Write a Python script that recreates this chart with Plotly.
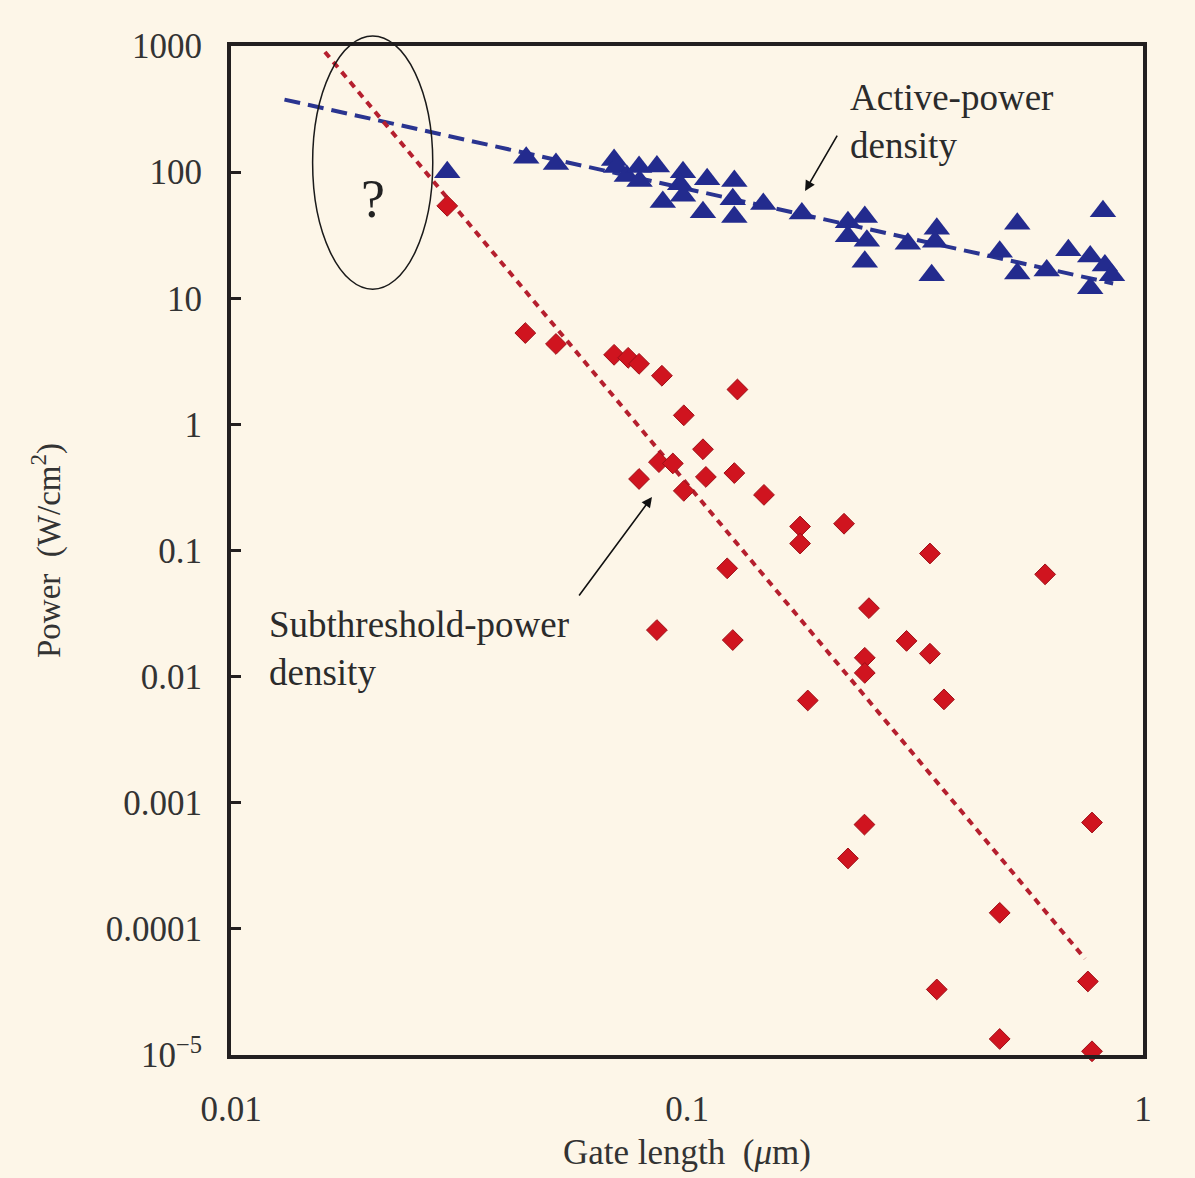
import math
import plotly.graph_objects as go

# ---------------- data ----------------
active_x = [0.0298, 0.0444, 0.0516, 0.0692, 0.0700, 0.0738, 0.0785, 0.0787, 0.0859, 0.0885,
            0.0980, 0.0980, 0.0966, 0.1084, 0.1107, 0.1270, 0.1260, 0.1270, 0.1470, 0.1786,
            0.2254, 0.2454, 0.2254, 0.2480, 0.2454, 0.3050, 0.3530, 0.3500, 0.3440, 0.5300,
            0.4850, 0.5300, 0.6150, 0.8170, 0.6860, 0.7660, 0.8250, 0.7660, 0.8550]
active_y = [100, 130, 116, 125, 110, 93, 110, 85, 111, 58,
            100, 65, 80, 48, 88, 85, 61, 44, 56, 47,
            40, 44, 31, 28.6, 19.5, 27, 35.6, 28, 15.2, 39,
            23.4, 15.7, 16.6, 49, 24, 21.4, 18.2, 12, 15.2]

sub_x = [0.0298, 0.0442, 0.0516, 0.0692, 0.0743, 0.0785, 0.0881, 0.129, 0.0984, 0.0785,
         0.0868, 0.0931, 0.1084, 0.110, 0.127, 0.0984, 0.1475, 0.177, 0.177, 0.221,
         0.341, 0.610, 0.1225, 0.2506, 0.0859, 0.126, 0.303, 0.341, 0.2454, 0.2454,
         0.366, 0.184, 0.245, 0.2254, 0.773, 0.485, 0.353, 0.757, 0.485, 0.773]
sub_y = [54, 5.3, 4.34, 3.56, 3.37, 3.02, 2.43, 1.89, 1.18, 0.369,
         0.502, 0.49, 0.635, 0.383, 0.411, 0.297, 0.276, 0.155, 0.1135, 0.163,
         0.0947, 0.0647, 0.0722, 0.0349, 0.0234, 0.0195, 0.0192, 0.0152, 0.0141, 0.0107,
         0.0066, 0.00647, 0.000671, 0.000362, 0.000697, 0.000134, 3.31e-5, 3.83e-5, 1.34e-5, 1.07e-5]

active_fit_x = [0.0131, 0.86]
active_fit_y = [376, 13.1]
sub_fit_x = [0.01607, 0.746]
sub_fit_y = [897, 5.8e-5]

x_ticks = [0.01, 0.1, 1]
x_ticktext = ["0.01", "0.1", "1"]
y_ticks = [1e-5, 1e-4, 1e-3, 1e-2, 1e-1, 1, 10, 100, 1000]
y_ticktext = ["10<sup>\u22125</sup>", "0.0001", "0.001", "0.01", "0.1", "1", "10", "100", "1000"]

# axis ranges (log10)
X_RANGE = [-2, 0]
Y_RANGE = [-5, 3]

# ellipse around the "?" region, in data units (gate length, power)
ell_x = [0.0151, 0.0277]
ell_y = [11.8, 1200]

BG = "#FDF6E8"
SERIF = "Liberation Serif, Times New Roman, serif"
NAVY = "#232B8E"
RED = "#D0141F"

fig = go.Figure()

fig.add_trace(go.Scatter(x=active_fit_x, y=active_fit_y, mode="lines",
                         line=dict(color="#2A3490", width=4, dash="16px,8px"),
                         showlegend=False, hoverinfo="skip"))
fig.add_trace(go.Scatter(x=sub_fit_x, y=sub_fit_y, mode="lines",
                         line=dict(color="#B51F2E", width=4, dash="7px,6px"),
                         showlegend=False, hoverinfo="skip"))
fig.add_trace(go.Scatter(x=active_x, y=active_y, mode="markers", name="Active-power density",
                         marker=dict(symbol="triangle-up", size=23, color=NAVY,
                                     line=dict(width=0)),
                         showlegend=False, cliponaxis=False))
fig.add_trace(go.Scatter(x=sub_x, y=sub_y, mode="markers", name="Subthreshold-power density",
                         marker=dict(symbol="diamond", size=16, color=RED,
                                     line=dict(width=1, color="#9E1018")),
                         showlegend=False, cliponaxis=False))

def to_paper_x(v):
    return (math.log10(v) - X_RANGE[0]) / (X_RANGE[1] - X_RANGE[0])

def to_paper_y(v):
    return (math.log10(v) - Y_RANGE[0]) / (Y_RANGE[1] - Y_RANGE[0])

fig.add_shape(type="circle", xref="paper", yref="paper",
              x0=to_paper_x(ell_x[0]), x1=to_paper_x(ell_x[1]),
              y0=to_paper_y(ell_y[0]), y1=to_paper_y(ell_y[1]),
              line=dict(color="#1a1a1a", width=1.5), layer="above")

ann_font = dict(family=SERIF, size=37, color="#2b2b2b")
fig.add_annotation(x=math.log10(0.0205), y=math.log10(61), text="?", showarrow=False,
                   font=dict(family=SERIF, size=54, color="#222"))
fig.add_annotation(x=math.log10(0.2255), y=math.log10(250), text="Active-power<br>density",
                   showarrow=False, xanchor="left", yanchor="middle", align="left", font=ann_font)
fig.add_annotation(x=math.log10(0.012), y=math.log10(0.0166), text="Subthreshold-power<br>density",
                   showarrow=False, xanchor="left", yanchor="middle", align="left", font=ann_font)
# arrows
fig.add_annotation(x=math.log10(0.1815), y=math.log10(70.8), ax=33, ay=-57, text="",
                   showarrow=True, arrowhead=2, arrowsize=1.3, arrowwidth=1.6, arrowcolor="#111")
fig.add_annotation(x=math.log10(0.0838), y=math.log10(0.266), ax=-74, ay=100, text="",
                   showarrow=True, arrowhead=2, arrowsize=1.3, arrowwidth=1.6, arrowcolor="#111")

fig.update_xaxes(type="log", range=X_RANGE, tickvals=x_ticks, ticktext=x_ticktext,
                 ticks="", showgrid=False, zeroline=False,
                 showline=True, linecolor="#231F20", linewidth=4, mirror=True,
                 tickfont=dict(family=SERIF, size=35, color="#333"),
                 ticklabelstandoff=20,
                 title=dict(text="Gate length  (<i>\u03bc</i>m)",
                            font=dict(family=SERIF, size=35, color="#333"), standoff=12))
fig.update_yaxes(type="log", range=Y_RANGE, tickvals=y_ticks, ticktext=y_ticktext,
                 ticks="inside", ticklen=10, tickwidth=3, tickcolor="#231F20",
                 showgrid=False, zeroline=False,
                 showline=True, linecolor="#231F20", linewidth=4, mirror=True,
                 tickfont=dict(family=SERIF, size=35, color="#333"),
                 ticklabelstandoff=18,
                 title=dict(text="Power  (W/cm<sup>2</sup>)",
                            font=dict(family=SERIF, size=33, color="#333"), standoff=36))

fig.update_layout(width=1195, height=1178,
                  margin=dict(l=231, r=52, t=46, b=116),
                  paper_bgcolor=BG, plot_bgcolor=BG, showlegend=False)

fig.write_html("out.html")
